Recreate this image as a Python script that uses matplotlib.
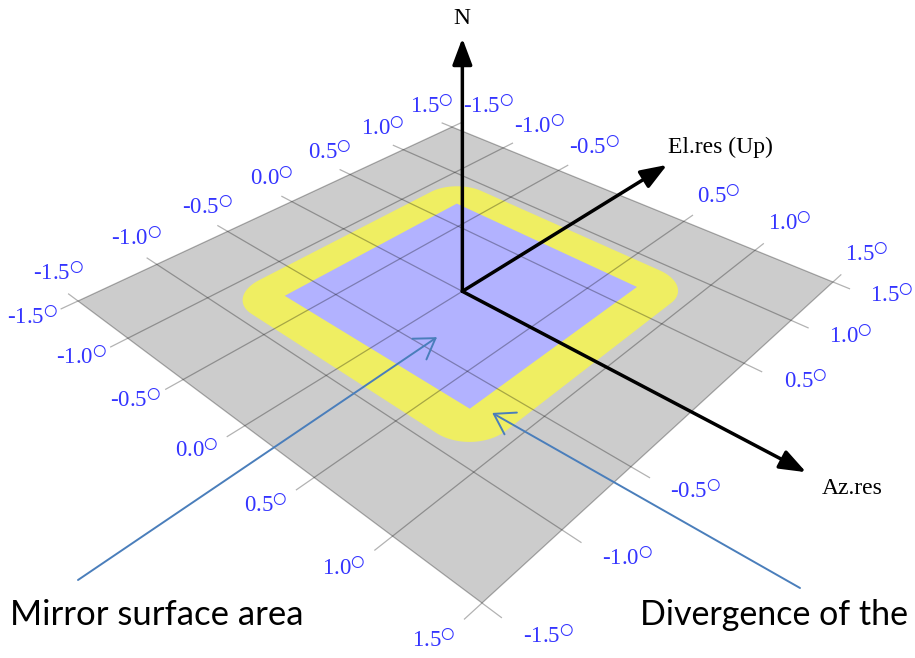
import numpy as np
import matplotlib
matplotlib.use('Agg')
import matplotlib.pyplot as plt
from matplotlib.patches import Polygon

plt.rcParams['mathtext.fontset'] = 'stix'

###############################################################################
# Data (angles in degrees, in the plane of the mirror)
###############################################################################
TICKS = [-1.5, -1.0, -0.5, 0.0, 0.5, 1.0, 1.5]
HIDDEN = [0.0]                 # labels covered by the axis arrows (right edges)
MIRROR_HALF = 0.7              # half width of the mirror surface area
DIVERGENCE = 0.23              # divergence radius added around the mirror
AZ_TIP, EL_TIP = 2.1, 2.07     # in-plane axis arrow lengths
POINT_MIRROR = (0.19, -0.40)   # callout targets
POINT_DIV = (0.80, -0.65)

###############################################################################
# Projection of the plane onto the picture (pixels)
###############################################################################
SRC = np.array([[-1.5, -1.5], [1.5, -1.5], [1.5, 1.5], [-1.5, 1.5]])
DST = np.array([[78, 301], [482, 603], [833, 282], [452, 127]])


def homography(src, dst):
    A, rhs = [], []
    for (x, y), (X, Y) in zip(src, dst):
        A.append([x, y, 1, 0, 0, 0, -X*x, -X*y]); rhs.append(X)
        A.append([0, 0, 0, x, y, 1, -Y*x, -Y*y]); rhs.append(Y)
    h = np.linalg.solve(np.array(A, float), np.array(rhs, float))
    return np.append(h, 1).reshape(3, 3)


H = homography(SRC, DST)


def proj(a, b):
    a = np.atleast_1d(np.asarray(a, float))
    b = np.atleast_1d(np.asarray(b, float))
    p = H @ np.vstack([a, b, np.ones(a.size)])
    return p[0]/p[2], p[1]/p[2]


def pt(a, b):
    x, y = proj(a, b)
    return (x[0], y[0])


def rounded_square(half, r, n=40):
    pts = []
    for (sx, sy, t0) in [(1, -1, -90), (1, 1, 0), (-1, 1, 90), (-1, -1, 180)]:
        t = np.radians(np.linspace(t0, t0 + 90, n))
        pts.append(np.c_[sx*half + r*np.cos(t), sy*half + r*np.sin(t)])
    return np.vstack(pts)

###############################################################################
# Figure
###############################################################################
(W, Hh) = (915, 658)
fig = plt.figure(figsize=(W/100, Hh/100), dpi=100)
ax = fig.add_axes([0, 0, 1, 1])
ax.set_xlim(0, W)
ax.set_ylim(Hh, 0)
ax.axis('off')

# plane, divergence area, mirror area ----------------------------------------
lo, hi = TICKS[0], TICKS[-1]
x, y = proj(SRC[:, 0], SRC[:, 1])
ax.add_patch(Polygon(np.c_[x, y], closed=True, fc='#cccccc', ec='none', zorder=1))
rs = rounded_square(MIRROR_HALF, DIVERGENCE)
x, y = proj(rs[:, 0], rs[:, 1])
ax.add_patch(Polygon(np.c_[x, y], closed=True, fc='#efee62', ec='none', zorder=2))
sq = np.array([[-1, -1], [1, -1], [1, 1], [-1, 1]])*MIRROR_HALF
x, y = proj(sq[:, 0], sq[:, 1])
ax.add_patch(Polygon(np.c_[x, y], closed=True, fc='#b2b2ff', ec='none', zorder=3))

# grid ------------------------------------------------------------------------
ext = 0.1
for t in TICKS:
    x, y = proj([t, t], [lo-ext, hi+ext])
    ax.plot(x, y, color='black', alpha=0.3, lw=0.9, zorder=4)
    x, y = proj([lo-ext, hi+ext], [t, t])
    ax.plot(x, y, color='black', alpha=0.3, lw=0.9, zorder=4)

# tick labels -------------------------------------------------------------------
lab = dict(color='#3434ff', fontsize=16.5, family='Liberation Serif',
           ha='center', va='center', textcoords='offset pixels', zorder=6)
d = 0.25
fmt = lambda v: '{:.1f}'.format(v) + '$^{\u25cb}$'
for t in TICKS:
    ax.annotate(fmt(t), xy=pt(lo-d, t), xytext=(4, 10), **lab)
    ax.annotate(fmt(t), xy=pt(t, lo-d), xytext=(-3, 3), **lab)
    if t not in HIDDEN:
        ax.annotate(fmt(t), xy=pt(t, hi+d), xytext=(14, 10), **lab)
        ax.annotate(fmt(t), xy=pt(hi+d, t), xytext=(17, 3), **lab)

# axes arrows -------------------------------------------------------------------
N_HEIGHT = 253
origin = pt(0, 0)
tips = {
    'Az': pt(AZ_TIP, 0),
    'El': pt(0, EL_TIP),
    'N': (origin[0], origin[1] - N_HEIGHT),
}
for k, tip in tips.items():
    ax.annotate('', xy=tip, xytext=origin, zorder=7,
                arrowprops=dict(arrowstyle='-|>,head_length=0.8,head_width=0.3',
                                color='black', lw=2.5, shrinkA=0, shrinkB=0,
                                mutation_scale=20))
axl = dict(color='black', fontsize=17, family='Liberation Serif',
           textcoords='offset pixels', va='center')
ax.annotate('N', xy=tips['N'], xytext=(0, 20), ha='center', **axl)
ax.annotate('El.res (Up)', xy=tips['El'], xytext=(1, 17), ha='left', **axl)
ax.annotate('Az.res', xy=tips['Az'], xytext=(16, -16), ha='left', **axl)

# callouts ------------------------------------------------------------------------
call = dict(arrowstyle='->,head_length=0.7,head_width=0.45', color='#4a7ebb',
            lw=1.4, shrinkA=0, shrinkB=0, mutation_scale=20)
ax.annotate('', xy=pt(*POINT_MIRROR), xytext=(78, 580), arrowprops=call, zorder=8)
ax.annotate('', xy=pt(*POINT_DIV), xytext=(800, 588), arrowprops=call, zorder=8)
txt = dict(family='Lato', color='black', va='baseline')
ax.text(10, 625, 'Mirror surface area', ha='left', fontsize=25, **txt)
ax.text(640, 625, 'Divergence of the', ha='left', fontsize=24.5, **txt)

fig.savefig('out.png', dpi=100, facecolor='white')
